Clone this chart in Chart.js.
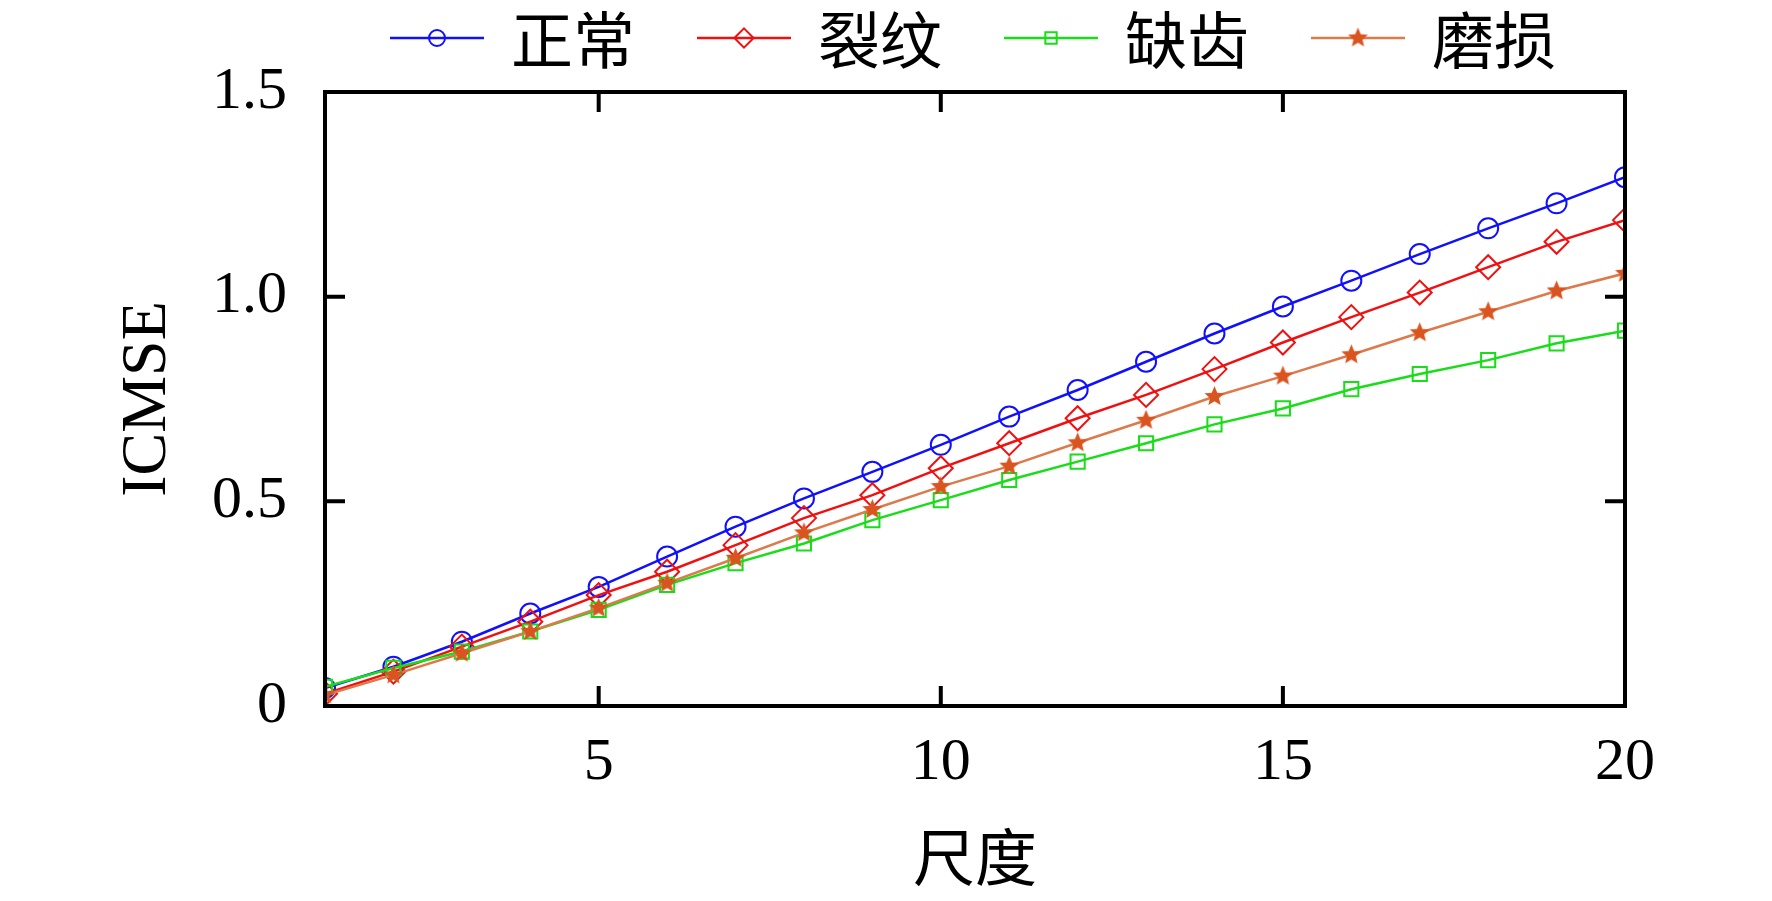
<!DOCTYPE html>
<html>
<head>
<meta charset="utf-8">
<script src="https://cdn.jsdelivr.net/npm/chart.js@4"></script>
<style>
  html, body { margin: 0; padding: 0; background: #fff; }
  canvas { display: block; }
</style>
</head>
<body>
<canvas id="chart" width="1772" height="901"></canvas>
<script>
// data
const scaleSteps = [1, 2, 3, 4, 5, 6, 7, 8, 9, 10, 11, 12, 13, 14, 15, 16, 17, 18, 19, 20];
const normalValues = [0.044, 0.096, 0.157, 0.226, 0.291, 0.365, 0.438, 0.507, 0.572, 0.638, 0.707, 0.772, 0.841, 0.910, 0.976, 1.039, 1.104, 1.167, 1.228, 1.292];
const crackValues = [0.030, 0.084, 0.145, 0.206, 0.271, 0.328, 0.393, 0.459, 0.515, 0.581, 0.642, 0.703, 0.760, 0.823, 0.888, 0.950, 1.010, 1.072, 1.134, 1.187];
const missingToothValues = [0.047, 0.093, 0.133, 0.182, 0.235, 0.296, 0.349, 0.397, 0.454, 0.503, 0.552, 0.597, 0.642, 0.688, 0.727, 0.774, 0.811, 0.845, 0.886, 0.917];
const wearValues = [0.027, 0.076, 0.129, 0.182, 0.239, 0.300, 0.361, 0.423, 0.480, 0.536, 0.586, 0.643, 0.698, 0.756, 0.806, 0.858, 0.912, 0.963, 1.014, 1.057];
const seriesNames = ['正常', '裂纹', '缺齿', '磨损'];
const xTickValues = [5, 10, 15, 20];
const yTickValues = [0, 0.5, 1.0, 1.5];
const yTickLabels = ['0', '0.5', '1.0', '1.5'];

function makeStar(r, color) {
    const c = document.createElement('canvas');
    const s = Math.ceil(r * 2 + 2);
    c.width = s;
    c.height = s;
    const g = c.getContext('2d');
    g.fillStyle = color;
    g.beginPath();
    for (let i = 0; i < 10; i++) {
        const rad = i % 2 ? r * 0.45 : r;
        const a = -Math.PI / 2 + i * Math.PI / 5;
        g.lineTo(s / 2 + rad * Math.cos(a), s / 2 + rad * Math.sin(a));
    }
    g.closePath();
    g.fill();
    return c;
}

const starMarker = makeStar(10.5, '#d9541e');

function toPoints(values) {
    return values.map((v, i) => ({ x: scaleSteps[i], y: v }));
}

function series(name, values, color, style, radius, order) {
    return {
        label: name,
        data: toPoints(values),
        borderColor: color,
        backgroundColor: 'rgba(0,0,0,0)',
        borderWidth: 2.5,
        pointStyle: style,
        pointRadius: radius,
        pointHoverRadius: radius,
        pointBorderColor: color,
        pointBackgroundColor: 'rgba(0,0,0,0)',
        pointBorderWidth: 2,
        tension: 0,
        order: order
    };
}

// frame, inward ticks and the line+marker legend
const frameAndLegend = {
    id: 'frameAndLegend',
    afterDatasetsDraw(chart) {
        const { ctx, chartArea: a } = chart;
        const xs = chart.scales.x, ys = chart.scales.y;
        ctx.save();
        ctx.strokeStyle = '#000';
        ctx.lineWidth = 4;
        ctx.strokeRect(a.left, a.top, a.right - a.left, a.bottom - a.top);
        ctx.beginPath();
        xTickValues.forEach(v => {
            const px = xs.getPixelForValue(v);
            ctx.moveTo(px, a.bottom); ctx.lineTo(px, a.bottom - 20);
            ctx.moveTo(px, a.top); ctx.lineTo(px, a.top + 20);
        });
        yTickValues.forEach(v => {
            const py = ys.getPixelForValue(v);
            ctx.moveTo(a.left, py); ctx.lineTo(a.left + 20, py);
            ctx.moveTo(a.right, py); ctx.lineTo(a.right - 20, py);
        });
        ctx.stroke();

        let lx = 390;
        const ly = 38;
        ctx.font = '62px "Noto Sans CJK SC"';
        ctx.textBaseline = 'middle';
        ctx.textAlign = 'left';
        chart.data.datasets.forEach(ds => {
            ctx.strokeStyle = ds.borderColor;
            ctx.lineWidth = ds.borderWidth;
            ctx.beginPath();
            ctx.moveTo(lx, ly);
            ctx.lineTo(lx + 94, ly);
            ctx.stroke();
            ctx.fillStyle = 'rgba(0,0,0,0)';
            ctx.lineWidth = ds.pointBorderWidth;
            Chart.helpers.drawPoint(ctx, {
                pointStyle: ds.pointStyle,
                radius: ds.pointRadius * 0.8,
                borderWidth: ds.pointBorderWidth,
                rotation: 0
            }, lx + 47, ly);
            ctx.fillStyle = '#000';
            const tx = lx + 121;
            ctx.fillText(ds.label, tx, ly + 2);
            lx = tx + 128 + 58;
        });
        ctx.restore();
    }
};

new Chart(document.getElementById('chart'), {
    type: 'line',
    data: {
        datasets: [
            series(seriesNames[0], normalValues, '#1010ff', 'circle', 10, 3),
            series(seriesNames[1], crackValues, '#f01010', 'rectRot', 12, 2),
            series(seriesNames[2], missingToothValues, '#18dd18', 'rect', 10, 1),
            Object.assign(series(seriesNames[3], wearValues, '#dd7a4c', starMarker, 10, 0), {
                pointBorderWidth: 0
            })
        ]
    },
    options: {
        responsive: false,
        devicePixelRatio: 1,
        animation: false,
        layout: { padding: { top: 92, right: 147, left: 0, bottom: 0 } },
        plugins: {
            legend: { display: false },
            tooltip: { enabled: false }
        },
        scales: {
            x: {
                type: 'linear',
                min: 1,
                max: 20,
                afterBuildTicks: s => { s.ticks = xTickValues.map(v => ({ value: v })); },
                afterFit: s => { s.height = 195; },
                grid: { display: false },
                border: { display: false },
                ticks: {
                    padding: 13,
                    color: '#000',
                    maxRotation: 0,
                    autoSkip: false,
                    font: { family: 'Liberation Serif', size: 60 },
                    callback: v => String(v)
                },
                title: {
                    display: true,
                    text: '尺度',
                    color: '#000',
                    font: { family: 'Noto Sans CJK SC', size: 62 },
                    padding: { top: 0, bottom: 6 }
                }
            },
            y: {
                min: 0,
                max: 1.5,
                afterBuildTicks: s => { s.ticks = yTickValues.map(v => ({ value: v })); },
                afterFit: s => { s.width = 325; },
                grid: { display: false },
                border: { display: false },
                ticks: {
                    padding: 30,
                    color: '#000',
                    autoSkip: false,
                    font: { family: 'Liberation Serif', size: 60 },
                    callback: (v, i) => yTickLabels[i]
                },
                title: {
                    display: true,
                    text: 'ICMSE',
                    color: '#000',
                    font: { family: 'Liberation Serif', size: 64 },
                    padding: { top: 110, bottom: 0 }
                }
            }
        }
    },
    plugins: [frameAndLegend]
});
</script>
</body>
</html>
